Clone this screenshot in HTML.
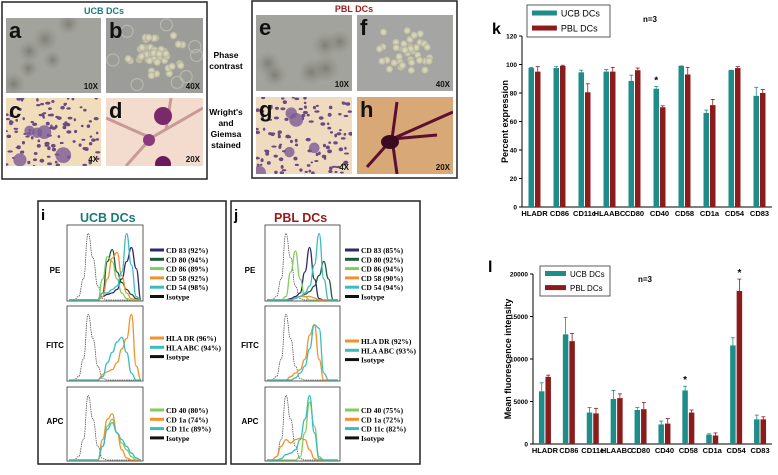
<!DOCTYPE html>
<html><head><meta charset="utf-8"><style>
body{margin:0;width:778px;height:475px;background:#fff;overflow:hidden;font-family:"Liberation Sans",sans-serif;}
svg{display:block}
</style></head><body>
<svg id="fig" width="778" height="475" xmlns="http://www.w3.org/2000/svg" font-family="Liberation Sans, sans-serif">
<defs>
<radialGradient id="blob"><stop offset="0" stop-color="#6f6f66" stop-opacity=".7"/><stop offset="1" stop-color="#8a8a84" stop-opacity="0"/></radialGradient>
<radialGradient id="cell"><stop offset="0" stop-color="#e2e0c4"/><stop offset=".7" stop-color="#c0bea4"/><stop offset="1" stop-color="#8f908a" stop-opacity="0"/></radialGradient>
</defs>
<g>
<rect x="2" y="2" width="205" height="177" fill="#fff" stroke="#222" stroke-width="1.5"/>
<text x="104" y="14" font-size="9" font-weight="bold" fill="#1a7a7a" text-anchor="middle">UCB DCs</text>
</g>
<g>
<rect x="252" y="1" width="205" height="177" fill="#fff" stroke="#222" stroke-width="1.5"/>
<text x="354" y="12" font-size="9" font-weight="bold" fill="#a02020" text-anchor="middle">PBL DCs</text>
</g>
<g id="micro"></g>
<text x="226" y="58" font-size="8.5" font-weight="bold" text-anchor="middle">Phase<tspan x="226" dy="11">contrast</tspan></text>
<text x="226" y="115" font-size="8.5" font-weight="bold" text-anchor="middle">Wright's<tspan x="226" dy="11">and</tspan><tspan x="226" dy="11">Giemsa</tspan><tspan x="226" dy="11">stained</tspan></text>
<rect x="38" y="201" width="188" height="263" fill="none" stroke="#222" stroke-width="1.5"/>
<rect x="231" y="201" width="189" height="263" fill="none" stroke="#222" stroke-width="1.5"/>
<text x="41" y="220" font-size="15" font-weight="bold">i</text>
<text x="80" y="222" font-size="12.5" font-weight="bold" fill="#1a7a7a">UCB DCs</text>
<text x="234" y="220" font-size="15" font-weight="bold">j</text>
<text x="274" y="222" font-size="12.5" font-weight="bold" fill="#9a1a1a">PBL DCs</text>
<g id="flow"></g>
<text x="492" y="34" font-size="16" font-weight="bold">k</text>
<text x="488" y="272" font-size="16" font-weight="bold">l</text>
<g id="chartK"></g>
<g id="chartL"></g>
</svg>
<script>
const NS='http://www.w3.org/2000/svg';
function mk(tag,attrs,parent,txt){const e=document.createElementNS(NS,tag);for(const k in attrs)e.setAttribute(k,attrs[k]);if(txt!==undefined)e.textContent=txt;parent.appendChild(e);return e;}

const markers=['HLADR','CD86','CD11c','HLAABC','CD80','CD40','CD58','CD1a','CD54','CD83'];
const kUCB=[97.5,97.5,94.5,95,88.5,83,99,66,96,78];
const kPBL=[95,99,80.5,95,96,70,93,71.5,97.5,80];
const kUCBerr=[0.5,1,1.5,1.5,4,1.5,0,2,0,6];
const kPBLerr=[3.5,0.5,6,3,1.5,1,5,4,1,2.5];
const kTicks=[0,20,40,60,80,100,120];
const kStars=['CD40'];
const lUCB=[6200,12900,3700,5300,4000,2300,6300,1100,11600,2900];
const lPBL=[7900,12100,3600,5400,4100,2400,3700,1000,18000,2900];
const lUCBerr=[1000,2000,600,1000,300,400,500,100,900,500];
const lPBLerr=[200,900,600,500,800,600,300,300,1400,300];
const lTicks=[0,5000,10000,15000,20000];
const lStars=['CD58','CD54'];

function barChart(g,cfg){
  const {x0,x1,y0,y1,max,ticks,ucb,pbl,ue,pe,stars,title,legend,nx,ny}=cfg;
  const ys=v=>y0-(v/max)*(y0-y1);
  const step=(x1-x0)/markers.length;
  const xs=i=>x0+step*(i+0.5);
  const bw=5.5;
  mk('line',{x1:x0,y1:y1,x2:x0,y2:y0,stroke:'#000','stroke-width':1,},g);
  mk('line',{x1:x0,y1:y0,x2:x1,y2:y0,stroke:'#000','stroke-width':1,},g);
  ticks.forEach(t=>{
    mk('line',{x1:x0-3,y1:ys(t),x2:x0,y2:ys(t),stroke:'#000'},g);
    const tl=mk('text',{x:x0-5,y:ys(t)+2.5,'font-size':6.5,'font-weight':'bold','text-anchor':'end'},g,t);
    
    
  });
  markers.forEach((m,i)=>{
    const cx=xs(i);
    [[ucb,ue,'#1e8c88',-bw-0.5],[pbl,pe,'#8c1c1c',0.5]].forEach(([vals,errs,col,off],s)=>{
      const r=mk('rect',{x:cx+off,y:ys(vals[i]),width:bw,height:y0-ys(vals[i]),fill:col},g);
      
      
      const ex=cx+off+bw/2, et=ys(vals[i]+errs[i]);
      mk('line',{x1:ex,y1:ys(vals[i]),x2:ex,y2:et,stroke:col,'stroke-width':0.8},g);
      mk('line',{x1:ex-2,y1:et,x2:ex+2,y2:et,stroke:col,'stroke-width':0.8},g);
    });
    const xl=mk('text',{x:cx,y:y0+9,'font-size':7.5,'font-weight':'bold','text-anchor':'middle'},g,m);
    
    
    if(stars.includes(m)){
      const v=ucb[i]>pbl[i]?ucb[i]+ue[i]:pbl[i]+pe[i];
      const sx=ucb[i]>pbl[i]?cx-bw/2-0.5:cx+bw/2+0.5;
      const st=mk('text',{x:sx,y:ys(v)-3,'font-size':10,'font-weight':'bold','text-anchor':'middle'},g,'*');
      
      
    }
  });
  const yt=mk('text',{x:0,y:0,'font-size':9,'font-weight':'bold','text-anchor':'middle',transform:`translate(${cfg.tx},${(y0+y1)/2}) rotate(-90)`},g,title);
  
  
  const [lx,ly,lw,lh]=legend;
  const lg=mk('g',{},g);
  
  
  mk('rect',{x:lx,y:ly,width:lw,height:lh,fill:'#fff',stroke:'#333','stroke-width':0.8},lg);
  mk('rect',{x:lx+5,y:ly+lh*0.25-2.5,width:lw*0.3,height:5,fill:'#1e8c88'},lg);
  mk('rect',{x:lx+5,y:ly+lh*0.72-2.5,width:lw*0.3,height:5,fill:'#8c1c1c'},lg);
  mk('text',{x:lx+lw*0.3+9,y:ly+lh*0.25+3.5,'font-size':cfg.lfs},lg,'UCB DCs');
  mk('text',{x:lx+lw*0.3+9,y:ly+lh*0.72+3.5,'font-size':cfg.lfs},lg,cfg.pblLabel);
  const n=mk('text',{x:nx,y:ny,'font-size':8,'font-weight':'bold'},g,'n=3');
  
  
}
barChart(document.getElementById('chartK'),{x0:522,x1:772,y0:207,y1:36,max:120,ticks:kTicks,ucb:kUCB,pbl:kPBL,ue:kUCBerr,pe:kPBLerr,stars:kStars,title:'Percent expression',tx:508,legend:[527,5,83,32],lfs:9,pblLabel:'PBL  DCs',nx:643,ny:22});
barChart(document.getElementById('chartL'),{x0:533,x1:772,y0:444,y1:274,max:20000,ticks:lTicks,ucb:lUCB,pbl:lPBL,ue:lUCBerr,pe:lPBLerr,stars:lStars,title:'Mean fluorescence intensity',tx:511,legend:[540,266,70,30],lfs:8,pblLabel:' PBL DCs',nx:638,ny:282});

const mg=document.getElementById('micro');
const panels=[
 ['a',6,18,95,75,'phase-lo','10X'],['b',106,18,97,75,'phase-hi','40X'],
 ['c',6,98,95,68,'stain-lo','4X'],['d',106,98,97,68,'stain-hi','20X'],
 ['e',256,15,96,76,'phase-lo','10X'],['f',357,15,96,76,'phase-hi2','40X'],
 ['g',256,97,96,77,'stain-lo2','4X'],['h',357,97,96,77,'stain-hi2','20X']];
let seed=7;function rnd(){seed=(seed*9301+49297)%233280;return seed/233280;}
panels.forEach(([l,x,y,w,h,kind,mag])=>{
  const g=mk('g',{},mg);
  
  
  const cp='cp'+l;
  const c=mk('clipPath',{id:cp},g);mk('rect',{x,y,width:w,height:h},c);
  const inner=mk('g',{'clip-path':`url(#${cp})`},g);
  const bg={ 'phase-lo':'#a3a39d','phase-hi':'#9c9d99','phase-hi2':'#a5a6a4','stain-lo':'#f1dcbc','stain-lo2':'#efdcc0','stain-hi':'#f3dccd','stain-hi2':'#d8a877'}[kind];
  mk('rect',{x,y,width:w,height:h,fill:bg},inner);
  if(kind==='phase-lo'){for(let i=0;i<6;i++)mk('circle',{cx:x+rnd()*w,cy:y+rnd()*h,r:9+rnd()*5,fill:'url(#blob)'},inner);}
  if(kind.startsWith('phase-hi')){for(let i=0;i<45;i++){const a=rnd()*6.28,r=rnd()*(kind==='phase-hi'?26:28);mk('circle',{cx:x+w*0.5+Math.cos(a)*r*1.2,cy:y+h*0.47+Math.sin(a)*r*0.9,r:4.5,fill:'url(#cell)'},inner);}
    if(kind==='phase-hi')for(let i=0;i<8;i++)mk('circle',{cx:x+w*0.5+Math.cos(i)*42,cy:y+h*0.5+Math.sin(i)*32,r:6,fill:'none',stroke:'#b8b8b0','stroke-width':1.2},inner);}
  if(kind.startsWith('stain-lo')){for(let i=0;i<110;i++)mk('ellipse',{cx:x+rnd()*w,cy:y+rnd()*h,rx:1.2+rnd()*1.5,ry:1+rnd(),fill:'#6a4a80'},inner);
    for(let i=0;i<5;i++)mk('circle',{cx:x+rnd()*w,cy:y+rnd()*h,r:5+rnd()*3,fill:'#7a5a96',opacity:.8},inner);}
  if(kind==='stain-hi'){mk('path',{d:`M${x} ${y+20} L${x+45} ${y+40} L${x+97} ${y+10} M${x+45} ${y+40} L${x+20} ${y+68} M${x+60} ${y+32} L${x+65} ${y}`,stroke:'#c79a98','stroke-width':3,fill:'none'},inner);
    mk('circle',{cx:x+57,cy:y+18,r:9,fill:'#7a2a6a'},inner);mk('circle',{cx:x+43,cy:y+42,r:6,fill:'#8a3a7a'},inner);mk('circle',{cx:x+57,cy:y+66,r:8,fill:'#6a1a5a'},inner);}
  if(kind==='stain-hi2'){mk('path',{d:`M${x+10} ${y+70} L${x+35} ${y+42} L${x+40} ${y+5} M${x+35} ${y+42} L${x+96} ${y+15} M${x+35} ${y+42} L${x+80} ${y+38} M${x+35} ${y+42} L${x+40} ${y+77}`,stroke:'#5a1030','stroke-width':3,fill:'none'},inner);
    mk('ellipse',{cx:x+33,cy:y+45,rx:9,ry:7,fill:'#3a0a20'},inner);}
  const lt=mk('text',{x:x+3,y:y+20,'font-size':22,'font-weight':'bold',fill:'#111'},g,l);
  
  
  mk('text',{x:x+w-3,y:y+h-4,'font-size':8,'font-weight':'bold','text-anchor':'end',fill:'#111'},g,mag);
});

const isoPE=[0,0,.05,.3,.95,.6,.2,.02,0,0,0,0,0,0,0,0];
const ucbPE={CD83:[0,0,0,0,0,0,0,.05,.08,.1,.15,.3,.55,.75,.45,0],CD80:[0,0,0,0,0,0,0,.1,.55,.72,.4,.25,.15,.08,.02,0],CD86:[0,0,0,0,0,0,0,.3,.62,.55,.3,.1,.02,0,0,0],CD58:[0,0,0,0,0,0,0,.05,.3,.6,.68,.35,.1,.02,0,0],CD54:[0,0,0,0,0,0,0,.1,.1,.15,.2,.4,.95,.5,.05,0]};
const ucbFITC={HLADR:[0,0,0,0,0,0,0,.08,.12,.15,.25,.45,.6,.95,.2,0],HLAABC:[0,0,0,0,0,0,0,.05,.25,.4,.55,.62,.4,.1,0,0]};
const ucbAPC={CD40:[0,0,0,0,0,0,0,.2,.5,.6,.4,.25,.15,.05,0,0],CD1a:[0,0,0,0,0,0,0,.3,.6,.68,.4,.15,.03,0,0,0],CD11c:[0,0,0,0,0,0,0,.2,.45,.55,.4,.3,.2,.1,.03,0]};
const pblPE={CD83:[0,0,0,0,0,.02,.05,.1,.4,.75,.3,.02,0,0,0,0],CD80:[0,0,0,0,0,0,.03,.05,.08,.12,.2,.35,.55,.3,0,0],CD86:[0,0,0,0,.05,.4,.7,.3,.05,0,0,0,0,0,0,0],CD58:[0,0,0,0,0,0,.03,.05,.05,.05,.03,0,0,0,0,0],CD54:[0,0,0,0,0,0,.02,.05,.1,.2,.5,.95,.3,0,0,0]};
const pblFITC={HLADR:[0,0,0,0,0,.05,.1,.15,.3,.65,.8,.3,0,0,0,0],HLAABC:[0,0,0,0,0,0,.03,.1,.2,.45,.8,.75,.1,0,0,0]};
const pblAPC={CD40:[0,0,0,0,0,0,0,.05,.4,.85,.5,.05,0,0,0,0],CD1a:[0,0,.05,.2,.3,.25,.3,.32,.3,.15,.02,0,0,0,0,0],CD11c:[0,0,0,.02,.08,.1,.15,.3,.6,.95,.4,.02,0,0,0,0]};
const colors={CD83:'#2a2a6e',CD80:'#1f5a3a',CD86:'#82cc5c',CD58:'#f2922c',CD54:'#3cbcbc',HLADR:'#f2922c',HLAABC:'#3cbcbc',CD40:'#82cc5c',CD1a:'#f2922c',CD11c:'#3cbcbc'};
const fg=document.getElementById('flow');
function hist(px,py,pw,ph,curves,iso,legendItems,lx,ly,name){
  const g=mk('g',{},fg);
  
  
  mk('rect',{x:px,y:py,width:pw,height:ph,fill:'#fff',stroke:'#333','stroke-width':0.8},g);
  const draw=(vals,col,w,dash)=>{
    const pts=vals.map((v,i)=>[px+2+i*(pw-4)/15,py+ph-1-v*(ph-6)]);
    let d='M'+pts[0].join(' ');
    for(let i=1;i<pts.length;i++){const p=pts[i-1],q=pts[i];const mx=(p[0]+q[0])/2;d+=` C${mx} ${p[1]} ${mx} ${q[1]} ${q[0]} ${q[1]}`;}
    const p=mk('path',{d,fill:'none',stroke:col,'stroke-width':w},g);
    if(dash)p.setAttribute('stroke-dasharray',dash);
    
    
  };
  draw(iso,'#555',0.8,'1.5 0.8');
  for(const k in curves)draw(curves[k],colors[k],1.3);
  legendItems.forEach((it,i)=>{
    const yy=ly+i*9.3;
    mk('line',{x1:lx,y1:yy,x2:lx+14,y2:yy,stroke:it[1],'stroke-width':3},g);
    mk('text',{x:lx+16,y:yy+3,'font-size':7.5,'font-weight':'bold','font-family':'Liberation Serif, serif'},g,it[0]);
  });
}
function labels(x){[['PE',273],['FITC',348],['APC',424]].forEach(([t,y])=>{const e=mk('text',{x,y,'font-size':8,'font-weight':'bold','text-anchor':'middle'},fg,t);});}
labels(55);labels(250);
hist(67,225,76,76,ucbPE,isoPE,[['CD 83 (92%)',colors.CD83],['CD 80 (94%)',colors.CD80],['CD 86 (89%)',colors.CD86],['CD 58 (92%)',colors.CD58],['CD 54 (98%)',colors.CD54],['Isotype','#111']],150,250,'ucb-pe-histogram');
hist(67,306,76,75,ucbFITC,isoPE,[['HLA DR   (96%)',colors.HLADR],['HLA ABC (94%)',colors.HLAABC],['Isotype','#111']],150,338,'ucb-fitc-histogram');
hist(67,387,76,74,ucbAPC,isoPE,[['CD 40   (80%)',colors.CD40],['CD 1a   (74%)',colors.CD1a],['CD 11c  (89%)',colors.CD11c],['Isotype','#111']],150,410,'ucb-apc-histogram');
hist(265,225,75,76,pblPE,isoPE,[['CD 83 (85%)',colors.CD83],['CD 80 (92%)',colors.CD80],['CD 86 (94%)',colors.CD86],['CD 58 (90%)',colors.CD58],['CD 54 (94%)',colors.CD54],['Isotype','#111']],345,250,'pbl-pe-histogram');
hist(265,306,75,75,pblFITC,isoPE,[['HLA DR   (92%)',colors.HLADR],['HLA ABC (93%)',colors.HLAABC],['Isotype','#111']],345,341,'pbl-fitc-histogram');
hist(265,387,75,74,pblAPC,isoPE,[['CD 40   (75%)',colors.CD40],['CD 1a   (72%)',colors.CD1a],['CD 11c  (82%)',colors.CD11c],['Isotype','#111']],345,410,'pbl-apc-histogram');
</script>
</body></html>
